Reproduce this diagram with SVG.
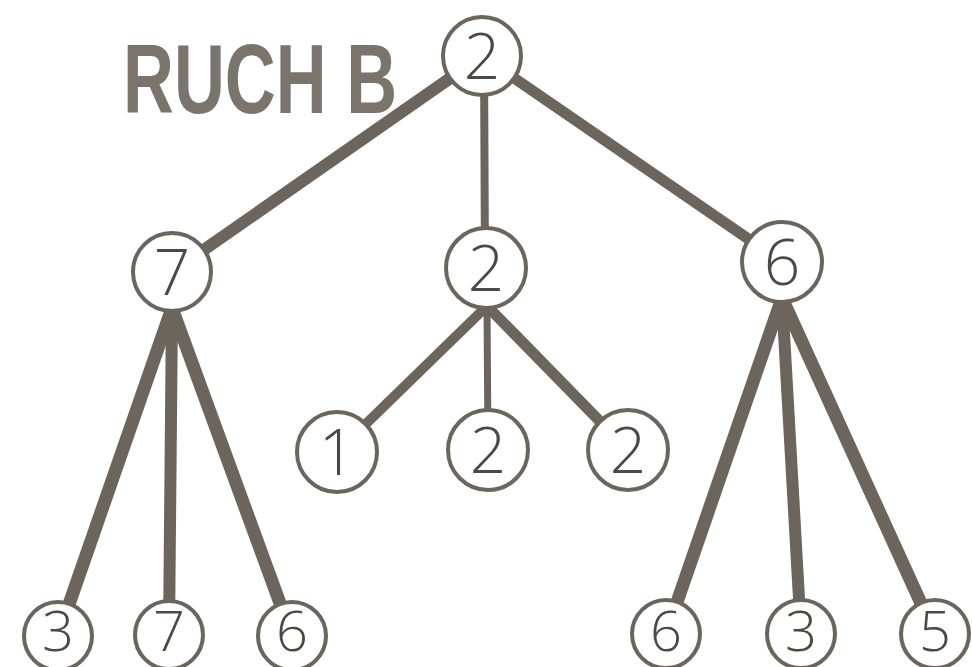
<svg xmlns="http://www.w3.org/2000/svg" width="972" height="667" viewBox="0 0 972 667">
<style>
.edge{stroke:#6b655d;stroke-linecap:butt;fill:none}
.node circle{fill:#ffffff;stroke:#6b655d;stroke-width:4}
.node text{font-family:"Open Sans","Liberation Sans","DejaVu Sans",sans-serif;font-weight:300;font-size:64px;fill:#4d4842;text-anchor:middle}
.node.small text{font-size:56px}
.title{font-family:"Liberation Sans","DejaVu Sans",sans-serif;font-weight:bold;font-size:99px;fill:#7a746c}
</style>
<rect width="972" height="667" fill="#ffffff"/>
<text class="title" x="172.8" y="113" transform="scale(0.712 1)">RUCH B</text>
<g id="connectors">
<line class="edge" x1="482" y1="56" x2="172" y2="272" stroke-width="12"/>
<line class="edge" x1="484" y1="56" x2="485" y2="268" stroke-width="8"/>
<line class="edge" x1="482" y1="56" x2="782" y2="262" stroke-width="11"/>
<line class="edge" x1="487" y1="306" x2="337" y2="452" stroke-width="10"/>
<line class="edge" x1="487" y1="306" x2="488" y2="450" stroke-width="7"/>
<line class="edge" x1="487" y1="306" x2="628" y2="450" stroke-width="11"/>
<line class="edge" x1="172" y1="308" x2="58" y2="636" stroke-width="13"/>
<line class="edge" x1="172" y1="308" x2="169" y2="634" stroke-width="12"/>
<line class="edge" x1="172" y1="308" x2="292" y2="636" stroke-width="13"/>
<line class="edge" x1="782" y1="298" x2="666" y2="634" stroke-width="13"/>
<line class="edge" x1="782" y1="298" x2="801" y2="634" stroke-width="12"/>
<line class="edge" x1="782" y1="298" x2="935" y2="634" stroke-width="13"/>
</g>
<g id="n-root" class="node"><circle cx="482" cy="56" r="39"/><text x="482" y="79">2</text></g>
<g id="n-a" class="node"><circle cx="172" cy="272" r="39"/><text x="172" y="295">7</text></g>
<g id="n-b" class="node"><circle cx="486" cy="268" r="40"/><text x="486" y="291">2</text></g>
<g id="n-c" class="node"><circle cx="782" cy="262" r="40"/><text x="782" y="285">6</text></g>
<g id="n-b1" class="node"><circle cx="337" cy="452" r="40"/><text x="337" y="475">1</text></g>
<g id="n-b2" class="node"><circle cx="488" cy="450" r="40"/><text x="488" y="473">2</text></g>
<g id="n-b3" class="node"><circle cx="628" cy="450" r="40"/><text x="628" y="473">2</text></g>
<g id="n-a1" class="node small"><circle cx="58" cy="636" r="34"/><text x="58" y="651">3</text></g>
<g id="n-a2" class="node small"><circle cx="169" cy="635" r="34"/><text x="169" y="651">7</text></g>
<g id="n-a3" class="node small"><circle cx="292" cy="636" r="34"/><text x="292" y="651">6</text></g>
<g id="n-c1" class="node small"><circle cx="666" cy="634" r="34"/><text x="666" y="651">6</text></g>
<g id="n-c2" class="node small"><circle cx="801" cy="634" r="34"/><text x="801" y="651">3</text></g>
<g id="n-c3" class="node small"><circle cx="935" cy="634" r="34"/><text x="935" y="651">5</text></g>
</svg>
